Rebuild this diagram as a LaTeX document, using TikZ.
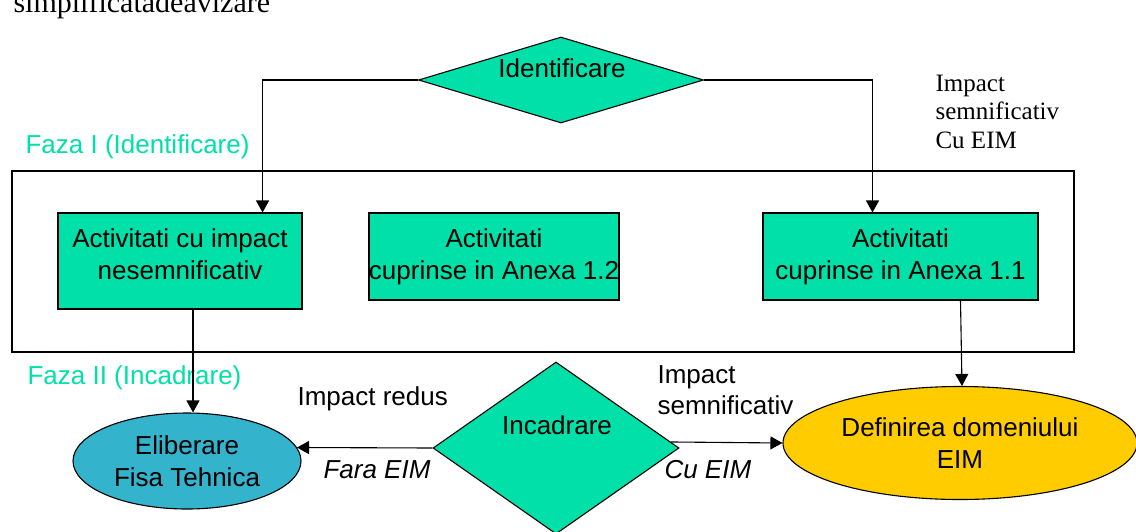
\documentclass[tikz,border=0pt]{standalone}
\usepackage{fontspec}
\setmainfont{Liberation Sans}
\newfontfamily\serifrm{Liberation Serif}
\usetikzlibrary{arrows.meta}
\usetikzlibrary{shapes.geometric}
\usetikzlibrary{calc}
\definecolor{mint}{RGB}{0,224,168}
\definecolor{lagoon}{RGB}{51,179,204}
\definecolor{gold}{RGB}{255,204,0}

\begin{document}
\begin{tikzpicture}[x=1pt, y=-1pt, >={Triangle[length=12pt,width=13pt]}, line width=1.1pt,
	every node/.style={font=\fontsize{26}{32}\selectfont, inner sep=0pt},
	actbox/.style={draw, fill=mint, align=center, minimum height=87pt},
	choice/.style={draw, diamond, fill=mint},
	result/.style={draw, ellipse, align=center, inner sep=2pt}]
				\useasboundingbox (0,0) rectangle (1136,531);
				
				% Draw the caption above
				\node[anchor=base west, font=\serifrm\fontsize{30}{34}\selectfont] (caption) at (13,12) {simplificatadeavizare};
				
				% Draw the phase I frame
				\draw (12,171) rectangle (1074,352);
				\node[anchor=base west, text=mint] (faza1) at (25,153) {Faza I (Identificare)};
				\node[anchor=base west, text=mint] (faza2) at (27,384) {Faza II (Incadrare)};
				
				% Draw the decisions
				\node[choice, minimum width=285pt, minimum height=86pt] (ident) at (561,80) {};
				\node (identtxt) at (562,68) {Identificare};
				\node[choice, minimum width=246pt, minimum height=172pt] (incadr) at (556,448) {};
				\node (incadrtxt) at (557,425) {Incadrare};
				
				% Draw the activities
				\node[actbox, minimum width=244pt, minimum height=96pt, inner ysep=0pt, text depth=14pt] (act1) at (180,261) {Activitati cu impact\\nesemnificativ};
				\node[actbox, minimum width=244pt] (act2) at (494,256.5) {Activitati\\cuprinse in Anexa 1.2};
				\node[actbox, minimum width=275pt] (act3) at (900.5,256.5) {Activitati\\cuprinse in Anexa 1.1};
				
				% Draw the results
				\node[result, fill=lagoon, minimum width=228pt, minimum height=96pt] (elib) at (187,461) {Eliberare\\Fisa Tehnica};
				\node[result, fill=gold, minimum width=354pt, minimum height=113pt] (defin) at (960,443) {Definirea domeniului\\EIM};
				
				% Draw the arrows
				\draw[->] (ident.west) -| ($(act1.north east)+(-40,0)$);
				\draw[->] (ident.east) -| ($(act3.north)+(-28,0)$);
				\draw[->] ([xshift=13pt]act1.south) -- ([xshift=6pt]elib.north);
				\draw[->] ([xshift=60pt]act3.south) -- ([xshift=2pt]defin.north);
				\draw[->] (incadr.west) -- (elib.7);
				\draw[->] (incadr.3) -- (defin.west);
				
				% Draw the labels
				\node[anchor=base west] (redus) at (297,405) {Impact redus};
				\node[anchor=base west, font=\itshape\fontsize{26}{32}\selectfont] (fara) at (323,478) {Fara EIM};
				\node[anchor=base west, font=\itshape\fontsize{26}{32}\selectfont] (cueim) at (664,478) {Cu EIM};
				\node[anchor=base west, align=left, font=\fontsize{26}{31}\selectfont] (semn) at (657,414) {Impact\\semnificativ};
				\node[anchor=base west, align=left, font=\serifrm\fontsize{25}{28.5}\selectfont] (semneim) at (935,148) {Impact\\semnificativ\\Cu EIM};
			\end{tikzpicture}
\end{document}
